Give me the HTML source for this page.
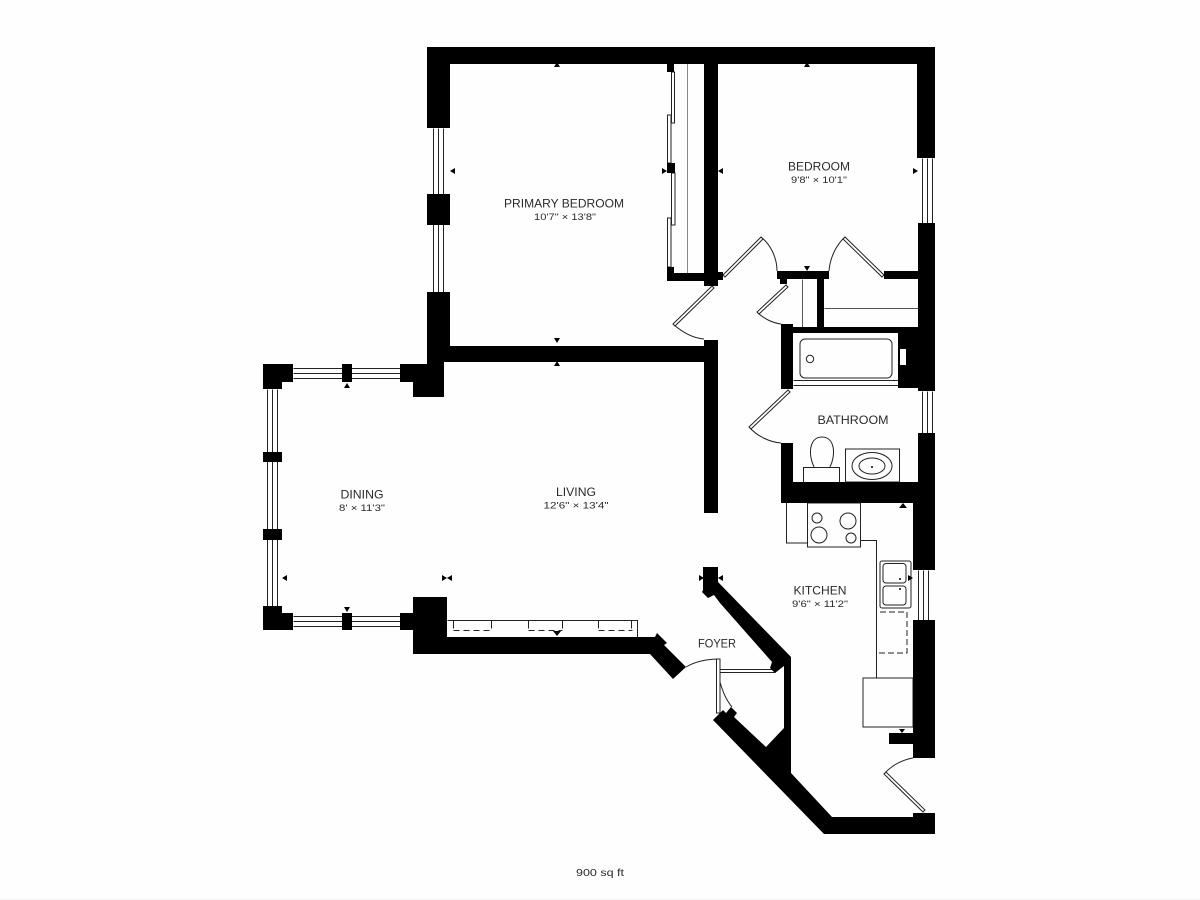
<!DOCTYPE html>
<html><head><meta charset="utf-8"><style>
html,body{margin:0;padding:0;background:#fefefe;width:1200px;height:900px;overflow:hidden}
svg{display:block}
text{font-family:"Liberation Sans",sans-serif;fill:#2a2a2a}
.n{font-size:12px}.d{font-size:9.5px}
</style></head><body>
<svg width="1200" height="900" viewBox="0 0 1200 900" xmlns="http://www.w3.org/2000/svg">
<rect width="1200" height="900" fill="#fefefe"/>
<rect y="899" width="1200" height="1" fill="#f3f3f3"/>
<g fill="none" stroke="#222" stroke-width="1">
<!-- windows -->
<g transform="translate(.5 .5)">
<path d="M433 128V292M438 128V292M443 128V292"/>
<path d="M922 158V223M927 158V223M932 158V223"/>
<path d="M922 391V433M927 391V433M932 391V433"/>
<path d="M918 570V620M923 570V620M928 570V620"/>
<path d="M293 368H400M293 373H400M293 378H400"/>
<path d="M293 616H400M293 621H400M293 626H400"/>
<path d="M267 389V606M272 389V606M277 389V606"/>
<path d="M824 308H918M802 279V327" stroke="#555"/>
<path d="M793 380H898M793 385H898"/>
<path d="M860 540H876V678"/>
<path d="M447 620H637V637"/>
<path d="M453 620V628M491 620V628M528 620V628M562 620V628M598 620V628M631 620V628"/>
<path d="M453 630H491M528 630H562M598 630H632" stroke-dasharray="6 4"/>
</g>
<!-- primary closet -->
<path d="M687.500 64V273" stroke="#888"/>
<path d="M671.500 72H674.500V123H671.500ZM667.500 115H671V163H667.500ZM671.500 173H675V225H671.500ZM667.500 218H671V267H667.500Z" fill="#fff"/>
<!-- tub -->
<rect x="800" y="339" width="92" height="39" rx="5"/>
<circle cx="810" cy="359" r="3.700"/>
<!-- toilet / sink -->
<rect x="803.500" y="467.500" width="36" height="15"/>
<path d="M814 467C808 455 809 437 822 437C835 437 836 455 830 467"/>
<rect x="845.500" y="449" width="54" height="33"/>
<ellipse cx="872" cy="466" rx="20" ry="13.500"/>
<ellipse cx="872" cy="466" rx="13" ry="8"/>
<!-- kitchen -->
<path d="M786.500 503V543H808"/>
<rect x="807.500" y="503" width="53" height="44"/>
<circle cx="817" cy="518" r="5"/><circle cx="848" cy="521" r="8"/><circle cx="819" cy="535" r="8"/><circle cx="851" cy="538" r="5"/>
<rect x="880" y="561" width="31" height="47" rx="2"/>
<rect x="883" y="563.500" width="23" height="19.500" rx="3"/>
<rect x="883" y="586" width="23" height="19" rx="3"/>
<path d="M880 612H907V653H876" stroke-dasharray="6 3"/>
<rect x="863" y="678" width="50" height="49"/>
<!-- door arcs -->
<path d="M761 237C771 245 777 258 777 271"/>
<path d="M845 237C836 245 830 258 829 271"/>
<path d="M673 324C682 332 692 338 704 339"/>
<path d="M757 312C763 318 772 323 781 324"/>
<path d="M749 427C757 436 769 442 781 443"/>
<path d="M686 667C696 661 707 659 720 659"/>
<path d="M720 682C723 693 727 701 732 707"/>
<path d="M884 774C892 765 902 760 913 758"/>
<!-- door leaves -->
<path d="M723 275L761 237L763 239L725 277Z" fill="#fff"/>
<path d="M884 275L845 237L843 239L882 277Z" fill="#fff"/>
<path d="M712 286L673 324L675 326L714 288Z" fill="#fff"/>
<path d="M786 285L757 312L759 314L788 287Z" fill="#fff"/>
<path d="M788 390L749 427L751 429L790 392Z" fill="#fff"/>
<path d="M720 669.500H775V672.500H720Z" fill="#fff"/>
<path d="M716.500 659H720V713H716.500Z" fill="#fff"/>
<path d="M923 812L884 774L886 772L925 810Z" fill="#fff"/>
</g>
<g fill="#000">
<!-- main walls -->
<path d="M427 47H935V158H917V64H718V286H704V64H450V128H427Z"/>
<rect x="427" y="194" width="23" height="31"/>
<path d="M427 292H450V346H704V340H718V513H704V362H444V397H413V382H400V364H427Z"/>
<path d="M917 223H935V391H918V388H898V327H918V223Z"/>
<rect x="918" y="433" width="17" height="70"/>
<rect x="913" y="495" width="22" height="75"/>
<rect x="913" y="620" width="22" height="138"/>
<path d="M781 324H793V327H898V333H793V389H781Z"/>
<path d="M781 443H793V482H918V503H781Z"/>
<rect x="817" y="278" width="7" height="50"/>
<rect x="777" y="271" width="52" height="8"/>
<rect x="884" y="271" width="34" height="8"/>
<rect x="780" y="278" width="7" height="6"/>
<rect x="889" y="733" width="24" height="11"/>
<!-- primary closet blocks -->
<rect x="667" y="64" width="7" height="8"/>
<rect x="667" y="163" width="8" height="10"/>
<path d="M667 267H674V273H704V281H667Z"/>
<rect x="704" y="272" width="19" height="8"/>
<!-- dining -->
<path d="M263 364H293V382H282V389H263Z"/>
<rect x="342" y="364" width="10" height="18"/>
<rect x="263" y="452" width="19" height="10"/>
<rect x="263" y="529" width="19" height="11"/>
<path d="M263 606H282V613H293V630H263Z"/>
<rect x="342" y="613" width="10" height="17"/>
<rect x="400" y="613" width="14" height="17"/>
<!-- lower living wall -->
<path d="M413 597H447V637H655L657 633L667 643L664 645L686 667L673 679L650 654H413Z"/>
<!-- diagonal walls -->
<path d="M703 567H718V582L791 657V773L832 817H913V813H935V834H824L713 720L723 710L726 713L731 707L737 713L734 717L766 747L784 728V666L775 673L770 668L772 662L720 603L714 595L708 598L702 592L703 590Z"/>
<!-- arrows -->
<path d="M557 62L560 67H554ZM807 62L810 67H804ZM557 343L560 338H554ZM557 361L560 366H554ZM807 271L810 266H804Z"/>
<path d="M450 171L455 168V174ZM667 171L662 168V174ZM718 171L723 168V174ZM918 171L913 168V174Z"/>
<path d="M282 578L287 575V581ZM447 578L442 575V581ZM447 578L452 575V581Z"/>
<path d="M347 383L350 388H344ZM347 612L350 607H344Z"/>
<path d="M557 636L561 631H553Z"/>
<path d="M903 503L907 508H899ZM902 733L905 729H899ZM913 578L908 575V581Z"/>
<path d="M704 578L699 575V581ZM718 578L723 575V581Z"/>
<circle cx="872" cy="467" r="1"/><circle cx="900" cy="579" r="1"/><circle cx="900" cy="589" r="1"/>
</g>
<rect x="900" y="349" width="6" height="16" fill="#fff"/>
<g>
<text class="n" x="564" y="207.500" text-anchor="middle" textLength="120" lengthAdjust="spacingAndGlyphs">PRIMARY BEDROOM</text>
<text class="d" x="565" y="220" text-anchor="middle" textLength="62" lengthAdjust="spacingAndGlyphs">10'7" × 13'8"</text>
<text class="n" x="819" y="170.500" text-anchor="middle" textLength="62" lengthAdjust="spacingAndGlyphs">BEDROOM</text>
<text class="d" x="819" y="183" text-anchor="middle" textLength="56" lengthAdjust="spacingAndGlyphs">9'8" × 10'1"</text>
<text class="n" x="853" y="424" text-anchor="middle" textLength="71" lengthAdjust="spacingAndGlyphs">BATHROOM</text>
<text class="n" x="820" y="594.500" text-anchor="middle" textLength="53" lengthAdjust="spacingAndGlyphs">KITCHEN</text>
<text class="d" x="820" y="607" text-anchor="middle" textLength="56" lengthAdjust="spacingAndGlyphs">9'6" × 11'2"</text>
<text class="n" x="717" y="647.500" text-anchor="middle" textLength="38" lengthAdjust="spacingAndGlyphs">FOYER</text>
<text class="n" x="362" y="498.500" text-anchor="middle" textLength="43" lengthAdjust="spacingAndGlyphs">DINING</text>
<text class="d" x="362" y="511" text-anchor="middle" textLength="46" lengthAdjust="spacingAndGlyphs">8' × 11'3"</text>
<text class="n" x="576" y="496" text-anchor="middle" textLength="40" lengthAdjust="spacingAndGlyphs">LIVING</text>
<text class="d" x="576" y="508.500" text-anchor="middle" textLength="65" lengthAdjust="spacingAndGlyphs">12'6" × 13'4"</text>
<text class="d" x="600" y="876" text-anchor="middle" textLength="48" lengthAdjust="spacingAndGlyphs" style="font-size:10.500px">900 sq ft</text>
</g>
</svg>
</body></html>
